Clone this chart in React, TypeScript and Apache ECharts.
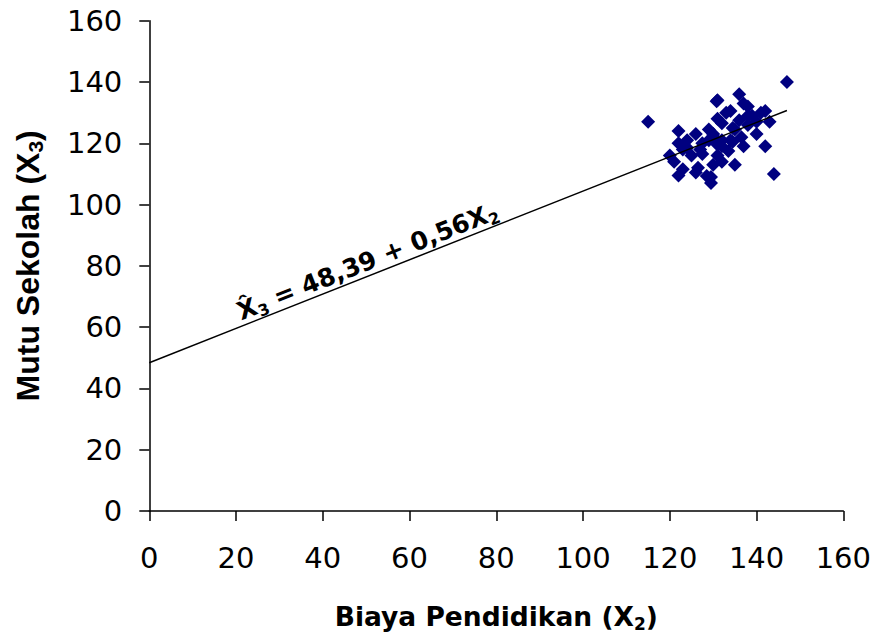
import React, { useEffect, useRef } from "react";
import * as echarts from "echarts";

// Biaya Pendidikan (X2) values of the observed schools
const biayaX = [
  115, 147, 131, 136, 137, 138, 134, 131, 132, 136, 139, 141, 142, 143, 140, 142,
  137, 135, 144, 129.5, 129.5, 134, 132, 135, 138, 122, 122, 126, 129, 133, 134.5,
  136.5, 132, 134.5, 133.5, 131, 127.5, 127.5, 131, 132, 124, 123, 126, 121, 122,
  126.5, 125, 129, 130, 127, 120, 124, 138, 130, 140, 128.5, 123, 130.8, 130,
];
// Mutu Sekolah (X3) values, same order
const mutuY = [
  127, 140, 134, 136, 133, 132, 130.5, 128, 126.5, 127.5, 129, 130, 130.5, 127, 123, 119,
  119, 113, 110, 109, 107, 121, 119, 124.5, 126, 124, 120, 123, 124.5, 130, 125,
  122, 121, 120.5, 117.5, 119.5, 120, 116.5, 116, 114, 118.5, 111.5, 110.5, 114, 109.5,
  112, 116, 121, 123, 118, 116, 121, 129, 113, 127, 109.3, 118, 133.7, 122.3,
];

// regression  X3^ = 48,39 + 0,56 X2
const intercept = 48.39;
const slope = 0.56;
const lineRangeX = [0, 147];
const labelRangeX = [22, 81];
const equationText = "{x|X\u0302}{sub|3} = 48,39 + 0,56X{sub|2}";

const xAxisTitle = "Biaya Pendidikan (X{sub|2})";
const yAxisTitle = "Mutu Sekolah (X{sub|3})";

export default function App() {
  const ref = useRef<HTMLDivElement>(null);

  useEffect(() => {
    document.body.style.margin = "0";
    const chart = echarts.init(ref.current!, null, { renderer: "svg" });
    const wide = "'DejaVu Sans', Verdana, sans-serif";
    const arial = "Arial, 'Liberation Sans', sans-serif";
    const points = biayaX.map((x, i) => [x, mutuY[i]]);
    const regLine = lineRangeX.map((x) => [x, intercept + slope * x]);
    const labelSeg = labelRangeX.map((x) => ({ coord: [x, intercept + slope * x] }));

    const subStyle = (size: number, family: string, lh: number) => ({
      fontSize: size,
      fontWeight: "bold" as const,
      fontFamily: family,
      color: "#000",
      lineHeight: lh,
      verticalAlign: "bottom" as const,
    });

    const axisCommon = {
      type: "value" as const,
      min: 0,
      max: 160,
      interval: 20,
      splitLine: { show: false },
      axisLine: { show: true, onZero: false, lineStyle: { color: "#000", width: 1.5 } },
      axisTick: { show: true, length: 10, lineStyle: { color: "#000", width: 1.5 } },
      nameLocation: "middle" as const,
    };

    chart.setOption({
      animation: false,
      backgroundColor: "#ffffff",
      grid: { left: 149.3, right: 31.7, top: 20.7, bottom: 124.3 },
      xAxis: {
        ...axisCommon,
        axisLabel: { color: "#000", fontSize: 29, fontFamily: wide, margin: 32 },
        name: xAxisTitle,
        nameGap: 89,
        nameTextStyle: {
          color: "#000",
          fontSize: 26.5,
          fontWeight: "bold",
          fontFamily: wide,
          lineHeight: 32,
          rich: { sub: subStyle(17, wide, 22) },
        },
      },
      yAxis: {
        ...axisCommon,
        axisLabel: { color: "#000", fontSize: 29, fontFamily: wide, margin: 27 },
        name: yAxisTitle,
        nameRotate: 90,
        nameGap: 103,
        nameTextStyle: {
          color: "#000",
          fontSize: 32,
          fontWeight: "bold",
          fontFamily: arial,
          lineHeight: 36,
          rich: { sub: subStyle(21, arial, 24) },
        },
      },
      series: [
        {
          type: "line",
          data: regLine,
          showSymbol: false,
          symbol: "none",
          silent: true,
          lineStyle: { color: "#000", width: 1.5 },
          z: 3,
          markLine: {
            silent: true,
            symbol: ["none", "none"],
            lineStyle: { color: "rgba(0,0,0,0)", width: 0 },
            label: {
              show: true,
              position: "insideMiddleTop",
              distance: -1,
              formatter: equationText,
              color: "#000",
              fontSize: 25,
              fontWeight: "bold",
              fontFamily: wide,
              lineHeight: 30,
              rich: {
                x: { fontSize: 25, fontWeight: "bold", fontFamily: wide, color: "#000", lineHeight: 30 },
                sub: subStyle(16, wide, 20),
              },
            },
            data: [labelSeg],
          },
        },
        {
          type: "scatter",
          data: points,
          symbol: "diamond",
          symbolSize: 14,
          itemStyle: { color: "#000080", opacity: 1 },
          z: 2,
        },
      ],
    });
    return () => chart.dispose();
  }, []);

  return <div ref={ref} style={{ width: 875, height: 637 }} />;
}
